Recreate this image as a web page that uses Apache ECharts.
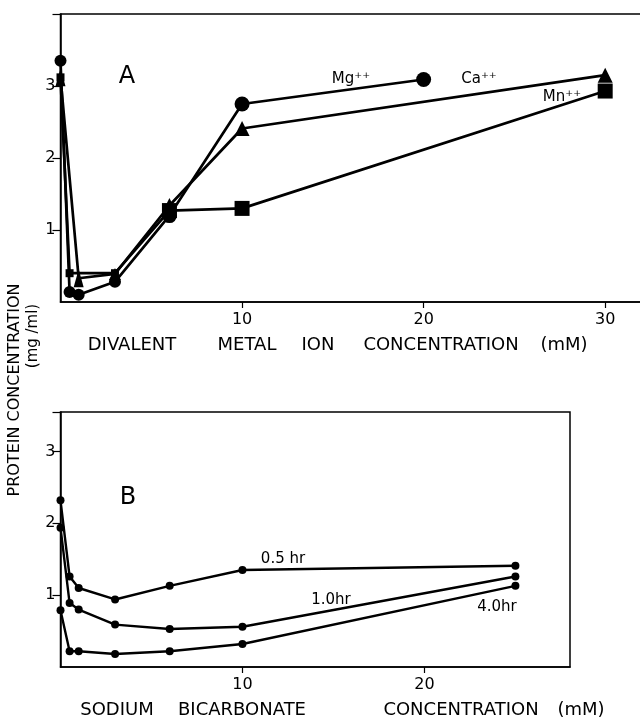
<!DOCTYPE html>
<html><head><meta charset="utf-8">
<script src="https://cdn.jsdelivr.net/npm/echarts@6/dist/echarts.min.js"></script>
<style>html,body{margin:0;padding:0;background:#fff}#c{width:640px;height:724px}</style>
</head><body><div id="c"></div>
<script>
// ---- Panel A: divalent metal ion concentration (mM) vs protein (mg/ml)
const xMg = [0, 0.5, 1, 3, 6, 10, 20];
const yMg = [3.35, 0.14, 0.10, 0.28, 1.20, 2.75, 3.09];
const xCa = [0, 1, 3, 6, 10, 30];
const yCa = [3.12, 0.33, 0.39, 1.34, 2.41, 3.15];
const xMn = [0, 0.5, 3, 6, 10, 30];
const yMn = [3.12, 0.40, 0.40, 1.27, 1.30, 2.93];
// ---- Panel B: sodium bicarbonate concentration (mM)
const xB = [0, 0.5, 1, 3, 6, 10, 25];
const y05 = [2.32, 1.26, 1.10, 0.94, 1.13, 1.35, 1.41];
const y10 = [1.94, 0.89, 0.80, 0.59, 0.53, 0.56, 1.26];
const y40 = [0.79, 0.22, 0.22, 0.18, 0.22, 0.32, 1.13];
// ---- tick labels
const xTickLabelsA = [10, 20, 30];
const xTickLabelsB = [10, 20];
const yTickLabels = [1, 2, 3];

const FF = 'DejaVu Sans';
const zip = (xs, ys) => xs.map((x, i) => [x, ys[i]]);
const fmt = list => v => list.includes(v) ? String(v) : '';

function xAxis(gi, max, labels) {
  return {
    gridIndex: gi, type: 'value', min: 0, max: max, interval: 10,
    axisLine: {show: true, onZero: false, lineStyle: {color: '#000', width: 1.5}},
    axisTick: {show: true, length: 6, lineStyle: {color: '#000', width: 1.2}},
    axisLabel: {color: '#000', fontSize: 16, fontFamily: FF, margin: 10, formatter: fmt(labels), showMaxLabel: false, showMinLabel: false},
    splitLine: {show: false}
  };
}
function yAxis(gi, max) {
  return {
    gridIndex: gi, type: 'value', min: 0, max: max, interval: 1,
    axisLine: {show: true, onZero: false, lineStyle: {color: '#000', width: 1.5}},
    axisTick: {show: true, length: 8, lineStyle: {color: '#000', width: 1.2}},
    axisLabel: {color: '#000', fontSize: 16, fontFamily: FF, margin: 5, formatter: fmt(yTickLabels), showMinLabel: false},
    splitLine: {show: false}
  };
}
const lineA = {color: '#000', width: 2.7};
const lineB = {color: '#000', width: 2.4};

function txt(text, x, y, size, extra) {
  return Object.assign({
    type: 'text', x: x, y: y, z: 100,
    style: {text: text, fill: '#000', font: size + 'px "' + FF + '"', textAlign: 'center', textVerticalAlign: 'middle'}
  }, extra || {});
}

const chart = echarts.init(document.getElementById('c'), null, {renderer: 'canvas'});
chart.setOption({
  animation: false,
  backgroundColor: '#fff',
  grid: [
    {left: 60.5, top: 14, width: 581, height: 288, show: true, borderColor: '#000', borderWidth: 1.5, outerBoundsMode: 'none', containLabel: false},
    {left: 60.5, top: 412, width: 509.5, height: 255, show: true, borderColor: '#000', borderWidth: 1.5, outerBoundsMode: 'none', containLabel: false}
  ],
  xAxis: [xAxis(0, 32, xTickLabelsA), xAxis(1, 28, xTickLabelsB)],
  yAxis: [yAxis(0, 4), yAxis(1, 3.55)],
  series: [
    {name: 'Mg++', type: 'line', xAxisIndex: 0, yAxisIndex: 0, data: zip(xMg, yMg),
     symbol: 'circle', symbolSize: v => v[0] < 4 ? 12 : 15, lineStyle: lineA, itemStyle: {color: '#000'}},
    {name: 'Ca++', type: 'line', xAxisIndex: 0, yAxisIndex: 0, data: zip(xCa, yCa),
     symbol: 'triangle', symbolSize: v => v[0] < 2 ? [10, 18] : (v[0] < 4 ? 12 : 15), lineStyle: lineA, itemStyle: {color: '#000'}},
    {name: 'Mn++', type: 'line', xAxisIndex: 0, yAxisIndex: 0, data: zip(xMn, yMn),
     symbol: 'rect', symbolSize: v => v[0] < 4 ? 8 : 15, lineStyle: lineA, itemStyle: {color: '#000'}},
    {name: '0.5 hr', type: 'line', xAxisIndex: 1, yAxisIndex: 1, data: zip(xB, y05),
     symbol: 'circle', symbolSize: 8, lineStyle: lineB, itemStyle: {color: '#000'}},
    {name: '1.0 hr', type: 'line', xAxisIndex: 1, yAxisIndex: 1, data: zip(xB, y10),
     symbol: 'circle', symbolSize: 8, lineStyle: lineB, itemStyle: {color: '#000'}},
    {name: '4.0 hr', type: 'line', xAxisIndex: 1, yAxisIndex: 1, data: zip(xB, y40),
     symbol: 'circle', symbolSize: 8, lineStyle: lineB, itemStyle: {color: '#000'}}
  ],
  graphic: [
    txt('A', 127, 77, 24),
    txt('B', 128, 498, 24),
    txt('Mg\u207A\u207A', 351, 79, 15),
    txt('Ca\u207A\u207A', 479, 79, 15),
    txt('Mn\u207A\u207A', 562, 97, 15),
    txt('0.5 hr', 283, 559, 15),
    txt('1.0hr', 331, 600, 15),
    txt('4.0hr', 497, 607, 15),
    // x axis titles (word by word, spread like the original)
    txt('DIVALENT', 132, 345, 18),
    txt('METAL', 247, 345, 18),
    txt('ION', 318, 345, 18),
    txt('CONCENTRATION', 441, 345, 18),
    txt('(mM)', 564, 345, 18),
    txt('SODIUM', 117, 710, 18),
    txt('BICARBONATE', 242, 710, 18),
    txt('CONCENTRATION', 461, 710, 18),
    txt('(mM)', 581, 710, 18),
    // y axis title
    txt('PROTEIN CONCENTRATION', 15, 390, 16, {rotation: Math.PI / 2}),
    txt('(mg /ml)', 33, 336, 15, {rotation: Math.PI / 2})
  ]
});
</script></body></html>
